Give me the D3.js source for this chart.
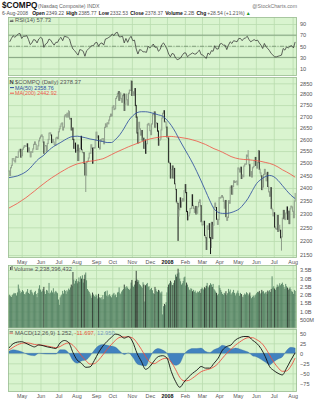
<!DOCTYPE html>
<html><head><meta charset="utf-8">
<script src="https://cdn.jsdelivr.net/npm/d3@7"></script>
<style>
html,body{margin:0;padding:0;background:#fff;}
svg{display:block;font-family:"Liberation Sans",Arial,sans-serif;}
</style></head><body>
<svg id="chart" width="322" height="400"></svg>
<script>
// Nasdaq Composite daily closes, 10-Apr-2007 .. 6-Aug-2008 (one value per trading day)
const closes = [
 // Apr 2007
 2467,2450,2481,2491,2518,2518,2510,2505,2526,2524,2524,2547,2554,2557,2525,
 // May
 2531,2558,2566,2573,2571,2570,2580,2547,2563,2546,2526,2547,2545,2559,2578,2588,2578,2557,2558,2572,2593,2605,
 // Jun
 2613,2618,2611,2588,2541,2573,2572,2549,2582,2599,2626,2627,2618,2586,2599,2588,2578,2574,2605,2608,2603,
 // Jul
 2632,2645,2656,2666,2670,2640,2652,2701,2707,2697,2713,2697,2720,2688,2690,2640,2648,2599,2562,2583,2546,
 // Aug
 2553,2575,2511,2547,2561,2612,2556,2544,2543,2499,2452,2451,2505,2508,2521,2541,2541,2576,2562,2500,2564,2563,2596,
 // Sep
 2630,2606,2614,2566,2559,2598,2592,2602,2602,2581,2651,2666,2654,2671,2667,2683,2699,2709,2701,
 // Oct
 2740,2747,2730,2734,2780,2788,2803,2811,2772,2805,2780,2763,2793,2800,2726,2754,2799,2774,2750,2804,2818,2817,2859,
 // Nov
 2794,2810,2795,2825,2748,2696,2627,2584,2673,2645,2618,2637,2596,2604,2562,2596,2541,2581,2663,2668,2661,
 // Dec
 2637,2620,2666,2709,2707,2719,2652,2671,2668,2635,2575,2596,2601,2640,2692,2713,2724,2676,2674,2652,
 // Jan 2008
 2610,2605,2504,2499,2440,2474,2488,2440,2478,2417,2394,2346,2340,2292,2316,2361,2326,2349,2358,2349,2389,
 // Feb
 2413,2382,2309,2278,2293,2304,2320,2321,2373,2332,2321,2306,2328,2300,2303,2327,2344,2353,2331,2271,
 // Mar
 2259,2260,2272,2220,2212,2170,2255,2243,2263,2212,2177,2268,2209,2258,2326,2341,2324,2280,2261,2279,
 // Apr
 2362,2361,2364,2370,2364,2348,2322,2351,2290,2276,2287,2350,2341,2403,2408,2376,2406,2428,2422,2425,2427,2413,
 // May
 2480,2476,2464,2483,2438,2451,2445,2488,2496,2496,2533,2528,2516,2493,2448,2465,2444,2481,2486,2508,2523,
 // Jun
 2491,2480,2503,2550,2475,2460,2448,2394,2404,2454,2474,2457,2429,2462,2406,2385,2368,2401,2321,2316,2293,
 // Jul
 2304,2251,2245,2243,2294,2235,2257,2239,2212,2215,2284,2313,2282,2279,2303,2326,2280,2310,2264,2319,2329,2326,
 // Aug
 2310,2286,2349,2378.37
];
const priorClose = 2470;

// notable intraday extremes: [day index, price]
const intradayLows  = [[90,2386.7],[198,2202.5],[236,2155.4],[319,2167.6]];
const intradayHighs = [[70,2724.7],[143,2861.5],[280,2551.5],[292,2552.0]];

// daily volume, billions of shares
const volumes = [
 1.95,2.01,1.92,1.88,1.98,2.05,2.12,2.08,2.10,1.96,2.15,2.62,2.38,2.25,2.10,
 2.18,2.29,2.21,2.05,2.02,2.14,2.20,2.35,2.12,2.06,2.28,2.31,2.18,2.09,1.98,2.16,2.24,2.05,1.86,2.12,2.38,2.58,
 2.32,2.18,2.25,2.36,2.48,2.21,2.05,2.30,2.26,2.12,2.72,2.08,2.14,2.26,2.15,2.40,2.08,2.18,2.24,2.16,2.10,
 1.72,1.40,1.85,1.95,2.02,2.24,2.08,2.30,2.24,2.06,2.28,2.20,2.38,2.31,2.45,2.62,2.55,3.38,2.92,2.68,2.85,
 2.95,2.70,2.82,3.05,2.78,3.12,2.98,3.18,2.74,2.96,3.22,3.35,2.88,2.35,2.26,2.18,2.08,1.95,1.82,2.14,2.02,1.92,1.88,
 2.02,1.95,1.78,2.06,1.85,1.80,1.86,1.72,1.98,1.74,2.18,2.22,1.95,2.26,1.90,1.98,2.04,1.92,1.85,
 1.98,2.06,2.12,1.96,2.02,1.86,2.14,2.18,2.45,2.10,2.04,2.20,2.28,2.35,2.62,2.48,2.38,2.52,2.44,2.36,2.30,2.38,2.74,
 2.90,2.55,2.48,2.62,2.85,3.45,2.92,2.78,2.88,2.64,2.58,2.50,2.42,2.76,2.62,1.60,2.58,2.65,2.72,2.48,2.52,
 2.30,2.35,2.42,2.28,2.10,2.05,2.48,2.36,2.22,2.18,2.30,2.26,2.15,2.08,2.20,0.82,1.32,1.45,1.38,1.56,
 2.15,2.48,2.62,2.70,2.85,2.76,2.58,2.60,2.72,2.88,3.22,3.10,3.28,3.58,3.35,2.98,2.82,2.62,2.70,2.84,3.05,
 3.10,2.56,2.74,2.62,2.46,2.32,2.28,2.40,2.36,2.22,2.30,2.18,2.26,2.14,2.10,2.20,2.16,2.24,2.12,2.35,
 2.44,2.38,2.32,2.46,2.40,2.55,2.72,2.50,2.44,2.58,2.70,2.62,2.48,2.66,2.35,2.28,2.20,2.12,1.98,2.06,
 2.58,2.42,2.30,2.18,2.06,2.00,2.12,2.08,2.22,1.98,2.10,2.36,2.20,2.32,2.02,2.10,2.18,2.30,2.12,1.96,2.08,2.14,
 2.26,2.10,1.94,2.12,2.05,1.90,1.86,1.98,2.08,2.02,2.16,2.10,1.96,2.04,2.14,1.92,1.80,1.88,1.95,1.84,1.96,
 2.02,2.10,2.18,2.16,2.24,2.05,2.12,2.30,2.20,2.22,2.08,2.14,2.18,2.06,2.26,2.20,2.28,2.18,2.36,3.12,2.44,
 2.52,2.38,2.30,2.45,2.62,2.48,2.56,2.70,2.58,2.66,2.74,2.60,2.48,2.36,2.66,2.52,2.44,2.30,2.38,2.46,2.34,2.22,
 2.18,2.06,2.30,2.238396432
];

// RSI(14), every second trading day (day 1, 3, 5 ... 335)
const rsi = [
 58,64,69,66,69,72,73,64,68,68,
 69,62,53,56,62,61,56,63,66,64,
 48,54,56,63,61,56,52,57,57,63,
 66,60,68,67,66,63,52,45,42,38,
 34,44,43,41,32,42,45,48,51,51,
 56,57,50,55,56,52,63,64,66,68,
 72,69,74,75,67,67,68,56,64,57,
 64,68,60,61,45,36,44,43,40,40,
 39,50,47,50,54,48,49,41,44,53,
 56,51,45,36,31,37,36,29,26,27,
 29,34,38,38,31,34,36,38,36,36,
 40,43,35,34,31,28,38,35,42,41,
 51,45,45,54,55,52,52,44,52,58,
 55,60,59,58,64,64,60,64,65,68,
 62,58,60,62,60,61,56,52,46,55,
 49,46,42,37,34,31,31,32,33,34,
 46,43,49,47,50,51,47,57.73
];

// moving averages, every fifth trading day (day 0, 5, 10 ... 335)
const ma50 = [
 2441,2444,2448,2455,2465,2480,2500,2518,2530,2547,2563,2575,2585,2596,2606,2612,2613,2610,2606,2601,
 2598,2594,2590,2586,2586,2600,2620,2648,2680,2702,2716,2720,2720,2717,2712,2706,2700,2683,2660,2630,
 2595,2563,2532,2500,2465,2428,2390,2352,2320,2306,2302,2302,2305,2311,2320,2338,2360,2390,2418,2434,
 2445,2450,2445,2430,2410,2390,2372,2358.76
];
const ma200 = [
 2322,2331,2340,2351,2362,2375,2388,2402,2415,2428,2440,2451,2462,2472,2482,2490,2497,2501,2505,2508,
 2510,2514,2518,2526,2535,2544,2552,2560,2568,2575,2582,2589,2596,2601,2605,2608,2611,2612,2612,2610,
 2608,2605,2602,2597,2592,2585,2578,2569,2560,2553,2545,2536,2527,2521,2517,2515,2514,2512,2510,2507,
 2503,2499,2493,2484,2473,2464,2454,2442.92
];

// MACD(12,26,9) line and signal, every fifth trading day
const macd = [
 13,24,28,29,25,20,16,21,19,16,14,12,26,32,27,2,-17,-25,-35,-34,
 -18,2,18,30,40,48,45,38,42,28,0,-20,-40,-33,-19,-8,-6,-12,-45,-70,
 -85,-72,-60,-50,-42,-33,-37,-37,-25,-12,8,17,21,33,39,42,42,33,25,12,
 -8,-33,-43,-50,-54,-37,-17,1.252
];
const signal = [
 8,15,21,25,26,25,22,21,20,18,16,14,17,23,26,20,8,-6,-18,-27,
 -26,-17,-4,10,22,33,40,41,41,38,26,10,-8,-22,-26,-20,-14,-12,-22,-40,
 -60,-69,-68,-62,-54,-46,-42,-39,-34,-25,-12,0,10,20,28,35,39,39,34,27,
 14,-4,-22,-36,-45,-44,-32,-11.697
];

// month starts (trading-day index) and their axis labels
const monthStarts = [15,37,58,79,102,121,144,165,185,206,226,246,268,289,310,332];
const monthLabels = ["May","Jun","Jul","Aug","Sep","Oct","Nov","Dec","2008","Feb","Mar","Apr","May","Jun","Jul","Aug"];

// tick values
const rsiTicks = [10,30,50,70,90];
const priceTicks = d3.range(2150, 2851, 50);
const volTicks = [0.5,1,1.5,2,2.5,3,3.5];
const volTickLabels = ["500M","1.0B","1.5B","2.0B","2.5B","3.0B","3.5B"];
const macdTicks = [-75,-50,-25,0,25,50];

// ---------------------------------------------------------------
const svg = d3.select("#chart");
const L = 8, R = 297;
const BG = "#d9f4cf", GRID = "#b9dcae", BORDER = "#9cbc95", TXT = "#555";

const panels = {
  rsi:   {top:17,  bottom:76},
  price: {top:77,  bottom:258},
  vol:   {top:265, bottom:328.5},
  macd:  {top:329, bottom:392}
};

const x = d3.scaleLinear().domain([-1, closes.length]).range([L, 296]);
const yR = d3.scaleLinear().domain([10,90]).range([68.5,24]);
const yP = d3.scaleLog().domain([2150,2850]).range([255,83.3]);
const yV = d3.scaleLinear().domain([0,3.5]).range([328,270]);
const yM = d3.scaleLinear().domain([-75,50]).range([383.3,333.3]);

function panel(name, yScale, ticks, fmt) {
  const p = panels[name];
  const g = svg.append("g");
  g.append("rect").attr("x",L).attr("y",p.top).attr("width",R-L).attr("height",p.bottom-p.top)
    .attr("fill",BG);
  // vertical month grid
  const vg = g.append("g").attr("transform",`translate(0,${p.bottom})`)
    .call(d3.axisBottom(x).tickValues(monthStarts).tickSize(-(p.bottom-p.top)).tickFormat(""));
  vg.select(".domain").remove();
  vg.selectAll("line").attr("stroke",GRID).attr("stroke-width",0.8);
  // horizontal grid
  const hg = g.append("g").attr("transform",`translate(${R},0)`)
    .call(d3.axisRight(yScale).tickValues(ticks).tickSize(-(R-L)).tickFormat(""));
  hg.select(".domain").remove();
  hg.selectAll("line").attr("stroke",GRID).attr("stroke-width",0.8);
  // value labels
  const lab = svg.append("g").attr("transform",`translate(${R},0)`)
    .call(d3.axisRight(yScale).tickValues(ticks).tickSize(0).tickPadding(3).tickFormat(fmt));
  lab.select(".domain").remove();
  lab.selectAll("text").attr("fill",TXT).attr("font-size","5.6px").attr("font-family","Liberation Sans, Arial, sans-serif");
  // clip
  const id = "clip-"+name;
  svg.append("clipPath").attr("id",id).append("rect")
    .attr("x",L).attr("y",p.top).attr("width",R-L).attr("height",p.bottom-p.top);
  const body = svg.append("g").attr("clip-path",`url(#${id})`);
  return {g, body, p};
}

function border(name){
  const p = panels[name];
  svg.append("rect").attr("x",L+0.5).attr("y",p.top+0.5).attr("width",R-L-1).attr("height",p.bottom-p.top-1)
    .attr("fill","none").attr("stroke",BORDER).attr("stroke-width",0.8);
}

function monthAxis(yPos){
  const a = svg.append("g").attr("transform",`translate(0,${yPos})`)
    .call(d3.axisBottom(x).tickValues(monthStarts).tickSize(0).tickPadding(2.2)
      .tickFormat((d,i)=>monthLabels[i]));
  a.select(".domain").remove();
  a.selectAll("text").attr("font-size","5.4px")
    .attr("font-family","Liberation Sans, Arial, sans-serif")
    .attr("font-weight",(d,i)=>monthLabels[i]==="2008"?"bold":"normal")
    .attr("fill",(d,i)=>monthLabels[i]==="2008"?"#111":TXT);
}

// ---------------- header ----------------
const hdr = svg.append("g").attr("font-family","Liberation Sans, Arial, sans-serif");
// lay a row of text runs left to right, each placed after the previous one
function textRow(runs, x0, y, size) {
  let cx = x0;
  runs.forEach(r => {
    const t = hdr.append("text").attr("x",cx).attr("y",y).attr("font-size",size+"px")
      .attr("font-weight",r.bold?"bold":"normal").attr("fill",r.fill).text(r.text);
    cx += t.node().getComputedTextLength() + (r.gap ?? 1.6);
  });
}
textRow([
  {text:"$COMPQ", bold:true, fill:"#111", gap:1.5}
], 2, 8, 8.2);
textRow([
  {text:"(Nasdaq Composite)", fill:"#666", gap:1.4},
  {text:"INDX", fill:"#666"}
], 38, 8, 5.2);
hdr.append("text").attr("x",297).attr("y",8).attr("font-size","5.2px").attr("fill","#777")
  .attr("text-anchor","end").text("@StockCharts.com");
textRow([
  {text:"6-Aug-2008", fill:"#555", gap:4},
  {text:"Open", bold:true, fill:"#111", gap:1.1},
  {text:"2349.22", fill:"#555", gap:2.2},
  {text:"High", bold:true, fill:"#111", gap:1.1},
  {text:"2385.77", fill:"#555", gap:2.2},
  {text:"Low", bold:true, fill:"#111", gap:1.1},
  {text:"2332.53", fill:"#555", gap:2.2},
  {text:"Close", bold:true, fill:"#111", gap:1.1},
  {text:"2378.37", fill:"#555", gap:2.2},
  {text:"Volume", bold:true, fill:"#111", gap:1.1},
  {text:"2.2B", fill:"#555", gap:2.2},
  {text:"Chg", bold:true, fill:"#111", gap:1.1},
  {text:"+28.54 (+1.21%)", fill:"#555", gap:1.2},
  {text:"▲", fill:"#1a9a2a"}
], 2, 14.6, 5.0);

// ---------------- RSI panel ----------------
const rp = panel("rsi", yR, rsiTicks, d3.format("d"));
[30,70].forEach(v=>{
  rp.body.append("line").attr("x1",L).attr("x2",R).attr("y1",yR(v)).attr("y2",yR(v))
    .attr("stroke","#7d9b7a").attr("stroke-width",0.9);
});
rp.body.append("line").attr("x1",L).attr("x2",R).attr("y1",yR(50)).attr("y2",yR(50))
  .attr("stroke","#6f8a6c").attr("stroke-width",0.8).attr("stroke-dasharray","4,1.5,1,1.5");
const rsiPts = rsi.map((v,k)=>[1+2*k, v]);
rp.body.append("path").datum(rsiPts)
  .attr("d", d3.line().x(d=>x(d[0])).y(d=>yR(d[1])))
  .attr("fill","none").attr("stroke","#333").attr("stroke-width",0.75);
border("rsi");
svg.append("path").attr("d","M9.5,22 L11,19.5 L12,21 L13,19 L13.5,22 Z").attr("fill","#666");
svg.append("text").attr("x",15).attr("y",22).attr("font-size","5.8px").attr("fill",TXT).text("RSI(14) 57.73");

// ---------------- price panel ----------------
const pp = panel("price", yP, priceTicks, d3.format("d"));
const lowMap = new Map(intradayLows), highMap = new Map(intradayHighs);
const bars = closes.map((c,i)=>{
  const prev = i===0 ? priorClose : closes[i-1];
  let lo = Math.min(prev,c), hi = Math.max(prev,c);
  if (lowMap.has(i)) lo = Math.min(lo, lowMap.get(i));
  if (highMap.has(i)) hi = Math.max(hi, highMap.get(i));
  const chg = c/prev - 1;
  return {i, lo, hi, down: chg < -0.012, bigDown: chg < -0.016};
});
pp.body.append("g").selectAll("line").data(bars).join("line")
  .attr("x1",d=>x(d.i)).attr("x2",d=>x(d.i))
  .attr("y1",d=>yP(d.hi)-0.6).attr("y2",d=>yP(d.lo)+0.6)
  .attr("stroke",d=>d.down?"#151515":"#8e9d8a").attr("stroke-width",1);
const maIdx = k => Math.min(5*k, closes.length-1);
pp.body.append("path").datum(ma200)
  .attr("d", d3.line().x((d,k)=>x(maIdx(k))).y(d=>yP(d)).curve(d3.curveMonotoneX))
  .attr("fill","none").attr("stroke","#ef5a4c").attr("stroke-width",0.85);
pp.body.append("path").datum(ma50)
  .attr("d", d3.line().x((d,k)=>x(maIdx(k))).y(d=>yP(d)).curve(d3.curveMonotoneX))
  .attr("fill","none").attr("stroke","#2f4f9f").attr("stroke-width",0.85);
border("price");
svg.append("text").attr("x",9.5).attr("y",84).attr("font-size","5.8px").attr("fill","#444").attr("font-weight","bold").text("N");
svg.append("text").attr("x",15).attr("y",84).attr("font-size","5.8px").attr("fill",TXT).text("$COMPQ (Daily) 2378.37");
svg.append("line").attr("x1",10).attr("x2",14).attr("y1",87.6).attr("y2",87.6).attr("stroke","#2f4f9f").attr("stroke-width",1);
svg.append("text").attr("x",15).attr("y",89.6).attr("font-size","5.4px").attr("fill","#2f4f9f").text("MA(50) 2358.76");
svg.append("line").attr("x1",10).attr("x2",14).attr("y1",93.2).attr("y2",93.2).attr("stroke","#ef5a4c").attr("stroke-width",1);
svg.append("text").attr("x",15).attr("y",95.2).attr("font-size","5.4px").attr("fill","#ef5a4c").text("MA(200) 2442.92");
monthAxis(258);

// ---------------- volume panel ----------------
const vp = panel("vol", yV, volTicks, (d,i)=>volTickLabels[i]);
const bw = x(1)-x(0);
vp.body.append("g").selectAll("rect").data(volumes).join("rect")
  .attr("x",(d,i)=>x(i)-bw/2).attr("width",bw)
  .attr("y",d=>yV(d)).attr("height",d=>yV(0)-yV(d))
  .attr("fill",(d,i)=>bars[i].bigDown?"#1f2c24":"#4f7e5f");
border("vol");
svg.append("rect").attr("x",10).attr("y",267).attr("width",1).attr("height",3).attr("fill","#555");
svg.append("rect").attr("x",11.5).attr("y",266).attr("width",1).attr("height",4).attr("fill","#555");
svg.append("text").attr("x",14).attr("y",270.5).attr("font-size","5.8px").attr("fill",TXT).text("Volume 2,238,396,432");

// ---------------- MACD panel ----------------
const mp = panel("macd", yM, macdTicks, d3.format("d"));
const hist = macd.map((m,k)=>[maIdx(k), m - signal[k]]);
mp.body.append("path").datum(hist)
  .attr("d", d3.area().x(d=>x(d[0])).y0(yM(0)).y1(d=>yM(d[1])).curve(d3.curveMonotoneX))
  .attr("fill","#4182bf").attr("stroke","#2b5f94").attr("stroke-width",0.3);
mp.body.append("path").datum(signal)
  .attr("d", d3.line().x((d,k)=>x(maIdx(k))).y(d=>yM(d)).curve(d3.curveMonotoneX))
  .attr("fill","none").attr("stroke","#ee4a3c").attr("stroke-width",0.85);
mp.body.append("path").datum(macd)
  .attr("d", d3.line().x((d,k)=>x(maIdx(k))).y(d=>yM(d)).curve(d3.curveMonotoneX))
  .attr("fill","none").attr("stroke","#111").attr("stroke-width",0.9);
border("macd");
svg.append("line").attr("x1",9.5).attr("x2",13).attr("y1",331.8).attr("y2",331.8).attr("stroke","#333").attr("stroke-width",0.7);
svg.append("line").attr("x1",9.5).attr("x2",13).attr("y1",333.2).attr("y2",333.2).attr("stroke","#e44").attr("stroke-width",0.7);
const mt = svg.append("text").attr("x",15).attr("y",334.6).attr("font-size","5.8px");
mt.append("tspan").attr("fill",TXT).text("MACD(12,26,9) 1.252, ");
mt.append("tspan").attr("fill","#e8553f").text("-11.697, ");
mt.append("tspan").attr("fill","#7a9cc0").text("12.950");
monthAxis(392);
</script>
</body></html>
